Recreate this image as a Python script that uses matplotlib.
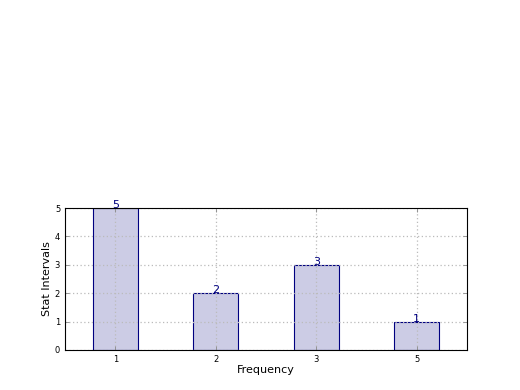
import matplotlib
matplotlib.use("Agg")
import matplotlib.pyplot as plt

categories = ["1", "2", "3", "5"]
values = [5, 2, 3, 1]

fig = plt.figure(figsize=(5.2, 3.9), dpi=100)
ax = fig.add_axes([0.125, 0.1026, 0.773, 0.364])
pos = list(range(len(categories)))
ax.bar(pos, values, width=0.45, color="#ccccE5", edgecolor="navy", linewidth=0.8, zorder=1)
for p, v in zip(pos, values):
    ax.text(p, v, str(v), ha="center", va="baseline", color="navy", fontsize=8, zorder=3)
ax.set_xlim(-0.5, 3.5)
ax.set_ylim(0, 5)
ax.set_xticks(pos)
ax.set_xticklabels(categories)
ax.set_yticks(range(0, 6))
ax.tick_params(direction="in", labelsize=6, top=True, right=True, length=3, width=0.6, color="#888888")
ax.grid(True, linestyle=(0, (1, 2)), color="#bbbbbb", linewidth=0.9, zorder=2)
ax.set_axisbelow(False)
ax.set_xlabel("Frequency", fontsize=8, labelpad=1)
ax.set_ylabel("Stat Intervals", fontsize=8, labelpad=2)
for s in ax.spines.values():
    s.set_linewidth(0.8)
    s.set_zorder(4)
fig.savefig("out.png", dpi=100)
